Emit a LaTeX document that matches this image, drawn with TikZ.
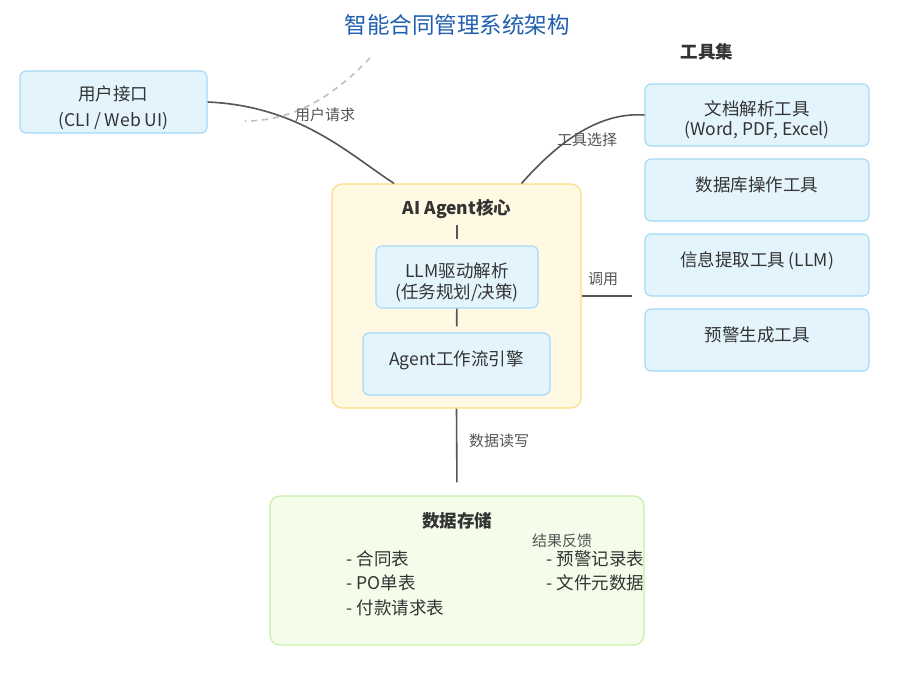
\documentclass[tikz,border=0pt]{standalone}
\usepackage{fontspec}
\setmainfont{Noto Sans CJK SC}
\usepackage{tikz}
\definecolor{ttl}{HTML}{1F5FAE}
\definecolor{txt}{HTML}{333333}
\definecolor{lnk}{HTML}{555555}
\definecolor{bfill}{HTML}{E3F4FD}
\definecolor{bdraw}{HTML}{A3D9F7}
\definecolor{cfill}{HTML}{FFF8E3}
\definecolor{cdraw}{HTML}{FFDA80}
\definecolor{sfill}{HTML}{F4FDEA}
\definecolor{sdraw}{HTML}{C6EDA6}
% shift box text up (+) or down (-) without changing its size
\newcommand{\shifttext}[2]{\raisebox{#1}[\height][\depth]{\begin{tabular}{@{}c@{}}#2\end{tabular}}}
\tikzset{
  box/.style={draw=bdraw,fill=bfill,line width=1.1pt,rounded corners=6pt,inner sep=0pt,
    align=center,text=txt,font=\fontsize{17.5}{21}\selectfont},
  coreb/.style={draw=cdraw,fill=cfill,line width=1.1pt,rounded corners=10pt,inner sep=0pt},
  storeb/.style={draw=sdraw,fill=sfill,line width=1.1pt,rounded corners=10pt,inner sep=0pt},
  head/.style={text=txt,font=\fontsize{17.5}{20}\selectfont\bfseries},
  lbl/.style={text=lnk,font=\fontsize{15}{16}\selectfont},
  item/.style={anchor=west,text=txt,font=\fontsize{17.5}{20}\selectfont},
  link/.style={draw=lnk,line width=1.6pt}
}

\begin{document}
\begin{tikzpicture}[x=1pt,y=-1pt]
\useasboundingbox (0,0) rectangle (906,677);
\node[text=ttl,font=\fontsize{22.5}{26}\selectfont] (title) at (457,25) {智能合同管理系统架构};
\coordinate (d1) at (370,58);
\coordinate (d2) at (245,121);
\draw[black!25,line width=1.6pt,dash pattern=on 6pt off 5pt] (d1) .. controls (330,100) and (290,121) .. (d2);

\node[box,minimum width=187pt,minimum height=62pt,font=\fontsize{17.5}{26}\selectfont] (ui) at (113.5,102) {\shifttext{-6.5pt}{用户接口\\(CLI / Web UI)}};

\node[head] (tools) at (707,52) {工具集};
\node[box,minimum width=224pt,minimum height=62pt,font=\fontsize{17.5}{19}\selectfont] (t1) at (757,115) {\shifttext{-5.5pt}{文档解析工具\\(Word, PDF, Excel)}};
\node[box,minimum width=224pt,minimum height=62pt] (t2) at (757,190) {\shifttext{2.5pt}{数据库操作工具}};
\node[box,minimum width=224pt,minimum height=62pt] (t3) at (757,265) {\shifttext{3pt}{信息提取工具 (LLM)}};
\node[box,minimum width=224pt,minimum height=62pt] (t4) at (757,340) {\shifttext{2.5pt}{预警生成工具}};

\node[coreb,minimum width=249pt,minimum height=224pt] (core) at (456.5,296) {};
\node[head] (coret) at (457,209) {AI Agent核心};
\node[box,minimum width=162pt,minimum height=62pt,font=\fontsize{17.5}{21.5}\selectfont] (llm) at (457,277) {\shifttext{-6.5pt}{LLM驱动解析\\(任务规划/决策)}};
\node[box,minimum width=187pt,minimum height=62pt] (flow) at (456.5,364) {\shifttext{3pt}{Agent工作流引擎}};
\draw[link,shorten <=3pt,shorten >=6pt] (coret) -- (llm);
\draw[link,shorten >=6pt] (llm) -- (flow);

\node[storeb,minimum width=374pt,minimum height=149pt] (store) at (457,570.5) {};
\node[head] (storet) at (457,521) {数据存储};
\node[item] (s1) at (343,559) {- 合同表};
\node[item] (s2) at (343,583) {- PO单表};
\node[item] (s3) at (343,608) {- 付款请求表};
\begin{scope}
\clip (store.south west) rectangle (store.north east);
\node[item] (s4) at (543,559) {- 预警记录表};
\node[item] (s5) at (543,583) {- 文件元数据};
\end{scope}

% connectors
\draw[link] (ui.east) .. controls (300,106) and (350,155) .. (core.119);
\node[lbl] (req) at (325,115) {用户请求};
\draw[link] (core.60) .. controls (560,140) and (600,112) .. (t1.west);
\node[lbl] (sel) at (587,140) {工具选择};
\coordinate (callend) at (632,296);
\draw[link] (core.east) -- (callend);
\node[lbl] (call) at (603,279) {调用};
\draw[link,shorten >=13pt] (core.south) -- (store.north);
\node[lbl] (rw) at (499,441) {数据读写};
\node[lbl] (fb) at (562,541) {结果反馈};
\end{tikzpicture}
\end{document}
